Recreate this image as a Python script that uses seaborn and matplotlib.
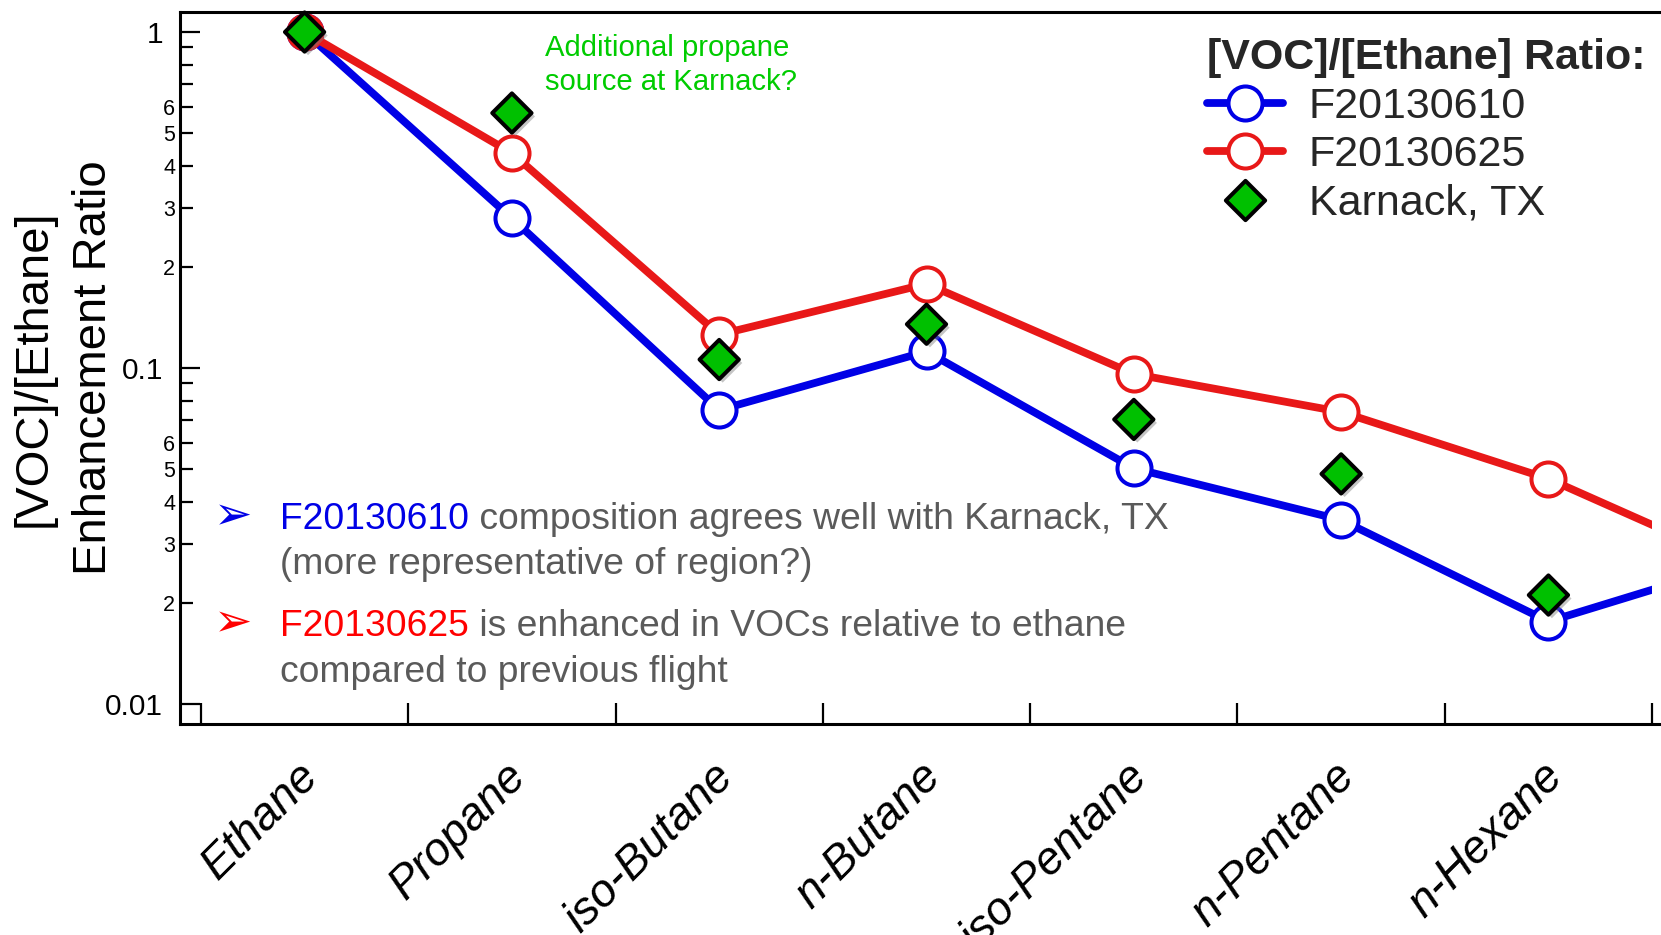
import numpy as np
import matplotlib
matplotlib.use("Agg")
import matplotlib.pyplot as plt
import matplotlib.patheffects as pe
from matplotlib.transforms import Bbox, TransformedBbox, ScaledTranslation
import seaborn as sns

# ---- data -------------------------------------------------------------
species = ["Ethane", "Propane", "iso-Butane", "n-Butane",
           "iso-Pentane", "n-Pentane", "n-Hexane", "n-Heptane"]
f20130610 = [1.0, 0.279, 0.075, 0.112, 0.0503, 0.0353, 0.0176, 0.0272]
f20130625 = [1.0, 0.436, 0.1257, 0.178, 0.096, 0.074, 0.0468, 0.0249]
karnack = [1.0, 0.574, 0.106, 0.135, 0.0703, 0.0484, 0.0211]

y_major = [0.01, 0.1, 1.0]
y_major_labels = ["0.01", "0.1", "1"]
y_minor_mantissa = [2, 3, 4, 5, 6, 7, 8, 9]
y_minor_labelled = ["2", "3", "4", "5", "6"]

# ---- style ------------------------------------------------------------
sns.set_theme(style="white")
plt.rcParams["font.family"] = ["Liberation Sans", "DejaVu Sans"]
plt.rcParams["axes.unicode_minus"] = False

BLUE = "#0000E6"
RED = "#E81818"
GREEN = "#00C000"
GREEN_TXT = "#00CC00"
GRAY = "#5A5A5A"

W, H = 1661, 935
fig = plt.figure(figsize=(W / 100, H / 100), dpi=100)
fig.patch.set_facecolor("white")


def fx(px):
    return px / W


def fy(py):
    return 1 - py / H


ax = fig.add_axes([fx(180), fy(724), (W - 180) / W, (724 - 12) / H])
ax.set_facecolor("white")
ax.set_yscale("log")

pos = np.arange(len(species)) + 0.5

line_kw = dict(lw=5.6, marker="o", ms=24.5, mfc="white", mew=2.9,
               estimator=None, legend=False)
sns.lineplot(x=pos, y=f20130610, ax=ax, color=BLUE, mec=BLUE,
             label="F20130610", zorder=3, **line_kw)
sns.lineplot(x=pos, y=f20130625, ax=ax, color=RED, mec=RED,
             label="F20130625", zorder=4, **line_kw)
sns.scatterplot(x=pos[:len(karnack)], y=karnack, ax=ax, marker="D", s=400,
                color=GREEN, edgecolor="black", linewidth=2.9, zorder=6,
                label="Karnack, TX", legend=False, clip_on=False)

# the traces stop at the right-most category boundary
clip = TransformedBbox(Bbox.from_extents(-1, 1e-4, 7.0, 10), ax.transData)
for ln in ax.lines:
    ln.set_clip_box(clip)

shadow = [pe.SimplePatchShadow(offset=(2.5, -2.5), shadow_rgbFace="#808080",
                               alpha=0.45), pe.Normal()]
ax.collections[0].set_path_effects(shadow)

# ---- axes -------------------------------------------------------------
ax.set_xticks(np.arange(0, 8))
ax.set_xticklabels([])
ax.set_xticks(pos, species, minor=True)
ax.tick_params(axis="x", which="major", direction="in", length=15,
               width=1.6, color="black", bottom=True, top=False)
ax.tick_params(axis="x", which="minor", length=0, pad=22, labelsize=33,
               labelcolor="black")
for lbl in ax.get_xticklabels(minor=True):
    lbl.set_rotation(45)
    lbl.set_rotation_mode("anchor")
    lbl.set_ha("right")
    lbl.set_va("top")
    lbl.set_fontstyle("italic")
    lbl.set_transform(lbl.get_transform()
                      + ScaledTranslation(-8 / 100, 0, fig.dpi_scale_trans))

minor_vals, minor_labels = [], []
for dec in (0.01, 0.1):
    for m in y_minor_mantissa:
        minor_vals.append(m * dec)
        minor_labels.append(str(m) if str(m) in y_minor_labelled else "")
ax.set_yticks(y_major, y_major_labels)
ax.set_yticks(minor_vals, minor_labels, minor=True)
ax.tick_params(axis="y", which="major", direction="in", length=14.4,
               width=1.6, labelsize=21.5, pad=12, left=True, color="black",
               labelcolor="black")
ax.tick_params(axis="y", which="minor", direction="in", length=9.4,
               width=1.6, labelsize=15.5, pad=3.6, left=True, color="black",
               labelcolor="black")

# limits after the ticks so the tick calls cannot widen them
ax.set_xlim(-0.101, 7.043)
ax.set_ylim(0.00872, 1.147)

for side in ("left", "top", "bottom"):
    ax.spines[side].set_linewidth(2.2)
    ax.spines[side].set_color("black")
ax.spines["right"].set_visible(False)

ax.set_xlabel("")
ax.set_ylabel("[VOC]/[Ethane]\nEnhancement Ratio", fontsize=34,
              linespacing=1.48, color="black")
ax.yaxis.set_label_coords(-0.0432, 0.5)

# ---- legend -----------------------------------------------------------
handles, labels = ax.get_legend_handles_labels()
leg = ax.legend(handles, labels, title="[VOC]/[Ethane] Ratio:",
                loc="upper left", bbox_to_anchor=(fx(1207), fy(38)),
                bbox_transform=fig.transFigure, frameon=False, fontsize=31,
                title_fontproperties={"weight": "bold", "size": 31},
                alignment="left", handlelength=1.76, handletextpad=0.6,
                labelspacing=0.2, borderpad=0, borderaxespad=0,
                scatteryoffsets=[0.5])
for h in leg.legend_handles:
    h.set_path_effects([])

# ---- annotations ------------------------------------------------------
fig.text(fx(545), fy(56), "Additional propane", color=GREEN_TXT,
         fontsize=21.1, va="baseline", ha="left")
fig.text(fx(545), fy(90), "source at Karnack?", color=GREEN_TXT,
         fontsize=21.1, va="baseline", ha="left")

BULLET_FS = 26.8


def bullet(y_base, arrow_color, key, rest, second):
    fig.text(fx(233), fy(y_base - 12), "\u27a2", color=arrow_color,
             fontsize=33, family="DejaVu Sans", va="center", ha="center")
    t = fig.text(fx(280), fy(y_base), key, color=arrow_color,
                 fontsize=BULLET_FS, va="baseline", ha="left")
    ax.annotate(rest, xy=(1, 0), xycoords=t, color=GRAY,
                fontsize=BULLET_FS, va="bottom", ha="left")
    fig.text(fx(280), fy(y_base + 45.5), second, color=GRAY,
             fontsize=BULLET_FS, va="baseline", ha="left")


bullet(529, BLUE, "F20130610", " composition agrees well with Karnack, TX",
       "(more representative of region?)")
bullet(636, "#FF0000", "F20130625", " is enhanced in VOCs relative to ethane",
       "compared to previous flight")

fig.savefig("out.png", dpi=100, facecolor="white")
